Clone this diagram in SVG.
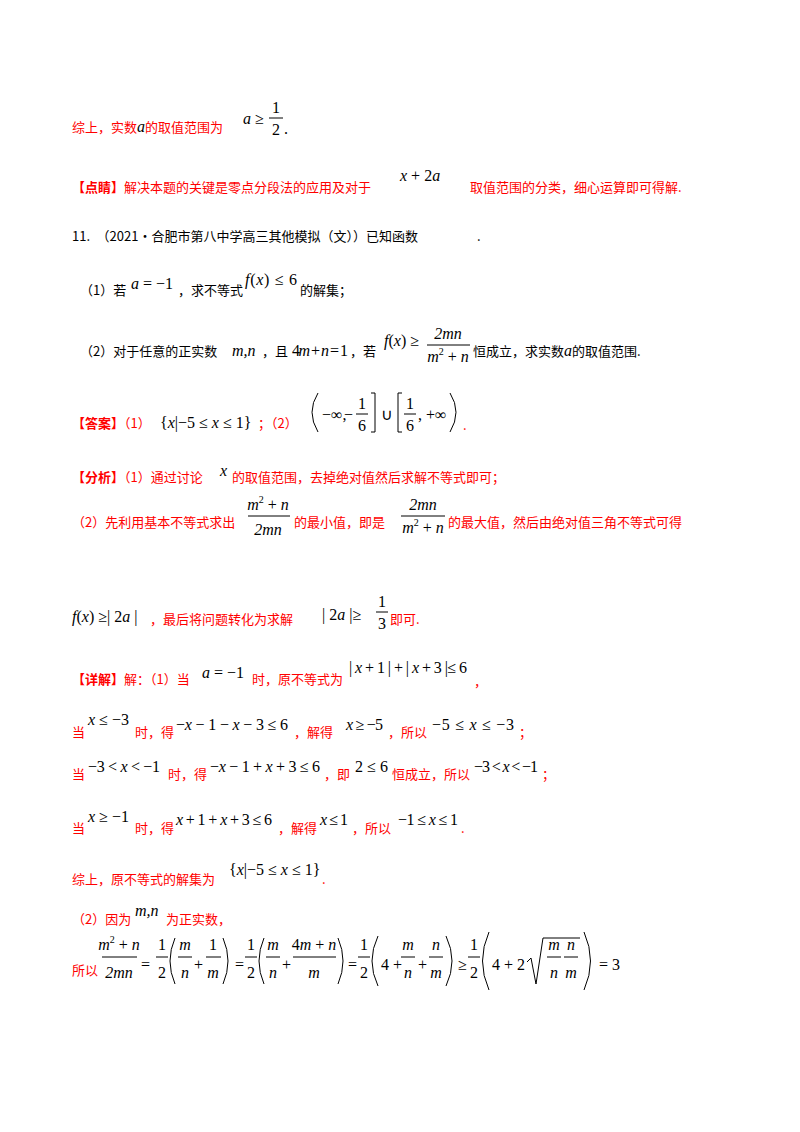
<svg xmlns="http://www.w3.org/2000/svg" width="800" height="1132" viewBox="0 0 800 1132">
<style>
.r{fill:#ff0000;font-family:"Noto Sans CJK SC",sans-serif;font-size:13px}
.k{fill:#000;font-family:"Noto Sans CJK SC",sans-serif;font-size:13px}
.m{fill:#000;font-family:"Liberation Serif",serif;font-size:16px}
.i{font-style:italic}
.c{text-anchor:middle}
.b{stroke:#000;stroke-width:1;fill:none}
.rb{fill:#ff0000;font-weight:bold}
</style>
<rect width="800" height="1132" fill="#fff"/>
<text x="72" y="132" class="r">综上，实数<tspan class="m i" fill="#ff0000">a</tspan>的取值范围为</text>
<text x="243" y="124" class="m"><tspan class="i">a</tspan> ≥</text>
<text x="276" y="113" class="m c">1</text><line x1="269" y1="118" x2="283" y2="118" class="b"/><text x="276" y="135" class="m c">2</text>
<text x="284" y="134" class="m">.</text>
<text x="72" y="192" class="r"><tspan class="rb">【点睛】</tspan>解决本题的关键是零点分段法的应用及对于</text>
<text x="400" y="181" class="m i">x <tspan font-style="normal">+ 2</tspan>a</text>
<text x="470" y="192" class="r">取值范围的分类，细心运算即可得解.</text>
<text x="72" y="241" class="k">11.　（2021·合肥市第八中学高三其他模拟（文））已知函数</text>
<text x="477" y="241" class="k">.</text>
<text x="80" y="295" class="k">（1）若</text>
<text x="131" y="289" class="m"><tspan class="i">a</tspan> = −1</text>
<text x="178" y="295" class="k">，求不等式</text>
<text x="245" y="285" class="m" textLength="52" lengthAdjust="spacing"><tspan class="i">f</tspan>(<tspan class="i">x</tspan>) ≤ 6</text>
<text x="300" y="295" class="k">的解集；</text>
<text x="80" y="356" class="k">（2）对于任意的正实数</text>
<text x="232" y="356" class="m i">m,n</text>
<text x="262" y="356" class="k">，且</text>
<text x="292" y="356" class="m" textLength="56" lengthAdjust="spacing">4<tspan class="i">m</tspan> + <tspan class="i">n</tspan> = 1</text>
<text x="350" y="356" class="k">，若</text>
<text x="384" y="346" class="m"><tspan class="i">f</tspan>(<tspan class="i">x</tspan>) ≥</text>
<text x="448" y="339" class="m c i">2mn</text><line x1="427" y1="345" x2="470" y2="345" class="b"/><text x="448" y="362" class="m c"><tspan class="i">m</tspan><tspan font-size="10" dy="-7">2</tspan><tspan dy="7"> + </tspan><tspan class="i">n</tspan></text>
<text x="473" y="356" class="k">恒成立，求实数<tspan class="m i">a</tspan>的取值范围.</text>
<text x="72" y="428" class="r"><tspan class="rb">【答案】</tspan>（1）</text>
<text x="160" y="428" class="m">{<tspan class="i">x</tspan>|−5 ≤ <tspan class="i">x</tspan> ≤ 1}</text>
<text x="258" y="428" class="r">；（2）</text>
<path d="M318 393 Q306 412 318 432" class="b"/>
<text x="322" y="420" class="m">−∞,</text>
<text x="344" y="420" class="m">−</text>
<text x="362" y="409" class="m c">1</text><line x1="356" y1="414" x2="368" y2="414" class="b"/><text x="362" y="431" class="m c">6</text>
<path d="M371 393 H375 V432 H371" class="b"/>
<text x="381" y="420" class="m">∪</text>
<path d="M402 393 H398 V432 H402" class="b"/>
<text x="410" y="409" class="m c">1</text><line x1="404" y1="414" x2="416" y2="414" class="b"/><text x="410" y="431" class="m c">6</text>
<text x="418" y="420" class="m">, +∞</text>
<path d="M450 393 Q462 412 450 432" class="b"/>
<text x="463" y="430" class="r">.</text>
<text x="72" y="482" class="r"><tspan class="rb">【分析】</tspan>（1）通过讨论</text>
<text x="220" y="476" class="m i">x</text>
<text x="232" y="482" class="r">的取值范围，去掉绝对值然后求解不等式即可；</text>
<text x="72" y="527" class="r">（2）先利用基本不等式求出</text>
<text x="268" y="510" class="m c"><tspan class="i">m</tspan><tspan font-size="10" dy="-7">2</tspan><tspan dy="7"> + </tspan><tspan class="i">n</tspan></text><line x1="248" y1="516" x2="290" y2="516" class="b"/><text x="268" y="535" class="m c i">2mn</text>
<text x="294" y="527" class="r">的最小值，即是</text>
<text x="423" y="510" class="m c i">2mn</text><line x1="401" y1="516" x2="445" y2="516" class="b"/><text x="423" y="533" class="m c"><tspan class="i">m</tspan><tspan font-size="10" dy="-7">2</tspan><tspan dy="7"> + </tspan><tspan class="i">n</tspan></text>
<text x="448" y="527" class="r">的最大值，然后由绝对值三角不等式可得</text>
<text x="72" y="622" class="m"><tspan class="i">f</tspan>(<tspan class="i">x</tspan>) ≥| 2<tspan class="i">a</tspan> |</text>
<text x="150" y="624" class="r">，最后将问题转化为求解</text>
<text x="322" y="620" class="m">| 2<tspan class="i">a</tspan> |≥</text>
<text x="382" y="607" class="m c">1</text><line x1="376" y1="612" x2="388" y2="612" class="b"/><text x="382" y="629" class="m c">3</text>
<text x="390" y="624" class="r">即可.</text>
<text x="72" y="684" class="r"><tspan class="rb">【详解】</tspan>解：（1）当</text>
<text x="202" y="678" class="m"><tspan class="i">a</tspan> = −1</text>
<text x="252" y="684" class="r">时，原不等式为</text>
<text x="349" y="673" class="m" textLength="118" lengthAdjust="spacing">| <tspan class="i">x</tspan> + 1 | + | <tspan class="i">x</tspan> + 3 |≤ 6</text>
<text x="474" y="686" class="r">，</text>
<text x="72" y="737" class="r">当</text>
<text x="88" y="725" class="m"><tspan class="i">x</tspan> ≤ −3</text>
<text x="135" y="737" class="r">时，得</text>
<text x="176" y="730" class="m" textLength="112" lengthAdjust="spacing">−<tspan class="i">x</tspan> − 1 − <tspan class="i">x</tspan> − 3 ≤ 6</text>
<text x="294" y="737" class="r">，解得</text>
<text x="346" y="730" class="m" textLength="37" lengthAdjust="spacing"><tspan class="i">x</tspan> ≥ −5</text>
<text x="388" y="737" class="r">，所以</text>
<text x="432" y="730" class="m" textLength="82" lengthAdjust="spacing">−5 ≤ <tspan class="i">x</tspan> ≤ −3</text>
<text x="519" y="737" class="r">；</text>
<text x="72" y="779" class="r">当</text>
<text x="88" y="772" class="m" textLength="72" lengthAdjust="spacing">−3 &lt; <tspan class="i">x</tspan> &lt; −1</text>
<text x="168" y="779" class="r">时，得</text>
<text x="210" y="772" class="m" textLength="110" lengthAdjust="spacing">−<tspan class="i">x</tspan> − 1 + <tspan class="i">x</tspan> + 3 ≤ 6</text>
<text x="324" y="779" class="r">，即</text>
<text x="355" y="772" class="m" textLength="33" lengthAdjust="spacing">2 ≤ 6</text>
<text x="392" y="779" class="r">恒成立，所以</text>
<text x="474" y="772" class="m" textLength="64" lengthAdjust="spacing">−3 &lt; <tspan class="i">x</tspan> &lt; −1</text>
<text x="542" y="779" class="r">；</text>
<text x="72" y="833" class="r">当</text>
<text x="88" y="822" class="m"><tspan class="i">x</tspan> ≥ −1</text>
<text x="135" y="833" class="r">时，得</text>
<text x="176" y="825" class="m" textLength="96" lengthAdjust="spacing"><tspan class="i">x</tspan> + 1 + <tspan class="i">x</tspan> + 3 ≤ 6</text>
<text x="278" y="833" class="r">，解得</text>
<text x="320" y="825" class="m" textLength="28" lengthAdjust="spacing"><tspan class="i">x</tspan> ≤ 1</text>
<text x="352" y="833" class="r">，所以</text>
<text x="398" y="825" class="m" textLength="60" lengthAdjust="spacing">−1 ≤ <tspan class="i">x</tspan> ≤ 1</text>
<text x="461" y="833" class="r">.</text>
<text x="72" y="884" class="r">综上，原不等式的解集为</text>
<text x="229" y="875" class="m">{<tspan class="i">x</tspan>|−5 ≤ <tspan class="i">x</tspan> ≤ 1}</text>
<text x="322" y="884" class="r">.</text>
<text x="72" y="924" class="r">（2）因为</text>
<text x="135" y="916" class="m i">m,n</text>
<text x="166" y="924" class="r">为正实数，</text>
<g class="m">
<text x="72" y="975" class="r">所以</text>
<text x="119" y="950" class="c"><tspan class="i">m</tspan><tspan font-size="10" dy="-7">2</tspan><tspan dy="7"> + </tspan><tspan class="i">n</tspan></text><line x1="102" y1="957" x2="137" y2="957" class="b"/><text x="119" y="978" class="c i">2mn</text>
<text x="141" y="970">=</text>
<text x="162" y="950" class="c">1</text><line x1="156" y1="957" x2="168" y2="957" class="b"/><text x="162" y="978" class="c">2</text>
<path d="M175 938 Q165 961 175 984" class="b"/>
<text x="185" y="950" class="c i">m</text><line x1="178" y1="957" x2="192" y2="957" class="b"/><text x="185" y="978" class="c i">n</text>
<text x="194" y="970">+</text>
<text x="213" y="950" class="c">1</text><line x1="206" y1="957" x2="221" y2="957" class="b"/><text x="213" y="978" class="c i">m</text>
<path d="M223 938 Q233 961 223 984" class="b"/>
<text x="235" y="970">=</text>
<text x="251" y="950" class="c">1</text><line x1="245" y1="957" x2="257" y2="957" class="b"/><text x="251" y="978" class="c">2</text>
<path d="M264 938 Q254 961 264 984" class="b"/>
<text x="273" y="950" class="c i">m</text><line x1="266" y1="957" x2="280" y2="957" class="b"/><text x="273" y="978" class="c i">n</text>
<text x="282" y="970">+</text>
<text x="314" y="950" class="c">4<tspan class="i">m</tspan> + <tspan class="i">n</tspan></text><line x1="293" y1="957" x2="336" y2="957" class="b"/><text x="314" y="978" class="c i">m</text>
<path d="M338 938 Q348 961 338 984" class="b"/>
<text x="348" y="970">=</text>
<text x="364" y="950" class="c">1</text><line x1="358" y1="957" x2="370" y2="957" class="b"/><text x="364" y="978" class="c">2</text>
<path d="M378 936 Q366 961 378 986" class="b"/>
<text x="381" y="970">4 +</text>
<text x="408" y="950" class="c i">m</text><line x1="401" y1="957" x2="415" y2="957" class="b"/><text x="408" y="978" class="c i">n</text>
<text x="418" y="970">+</text>
<text x="436" y="950" class="c i">n</text><line x1="429" y1="957" x2="443" y2="957" class="b"/><text x="436" y="978" class="c i">m</text>
<path d="M446 936 Q458 961 446 986" class="b"/>
<text x="458" y="970">≥</text>
<text x="474" y="950" class="c">1</text><line x1="468" y1="957" x2="480" y2="957" class="b"/><text x="474" y="978" class="c">2</text>
<path d="M489 932 Q476 961 489 990" class="b"/>
<text x="492" y="970">4 + 2</text>
<path d="M527 962 L531 958 L536 984 L543 938 H580" class="b"/>
<text x="554" y="950" class="c i">m</text><line x1="547" y1="957" x2="561" y2="957" class="b"/><text x="554" y="978" class="c i">n</text>
<text x="571" y="950" class="c i">n</text><line x1="564" y1="957" x2="578" y2="957" class="b"/><text x="571" y="978" class="c i">m</text>
<path d="M584 932 Q597 961 584 990" class="b"/>
<text x="599" y="970">= 3</text>
</g>
</svg>
